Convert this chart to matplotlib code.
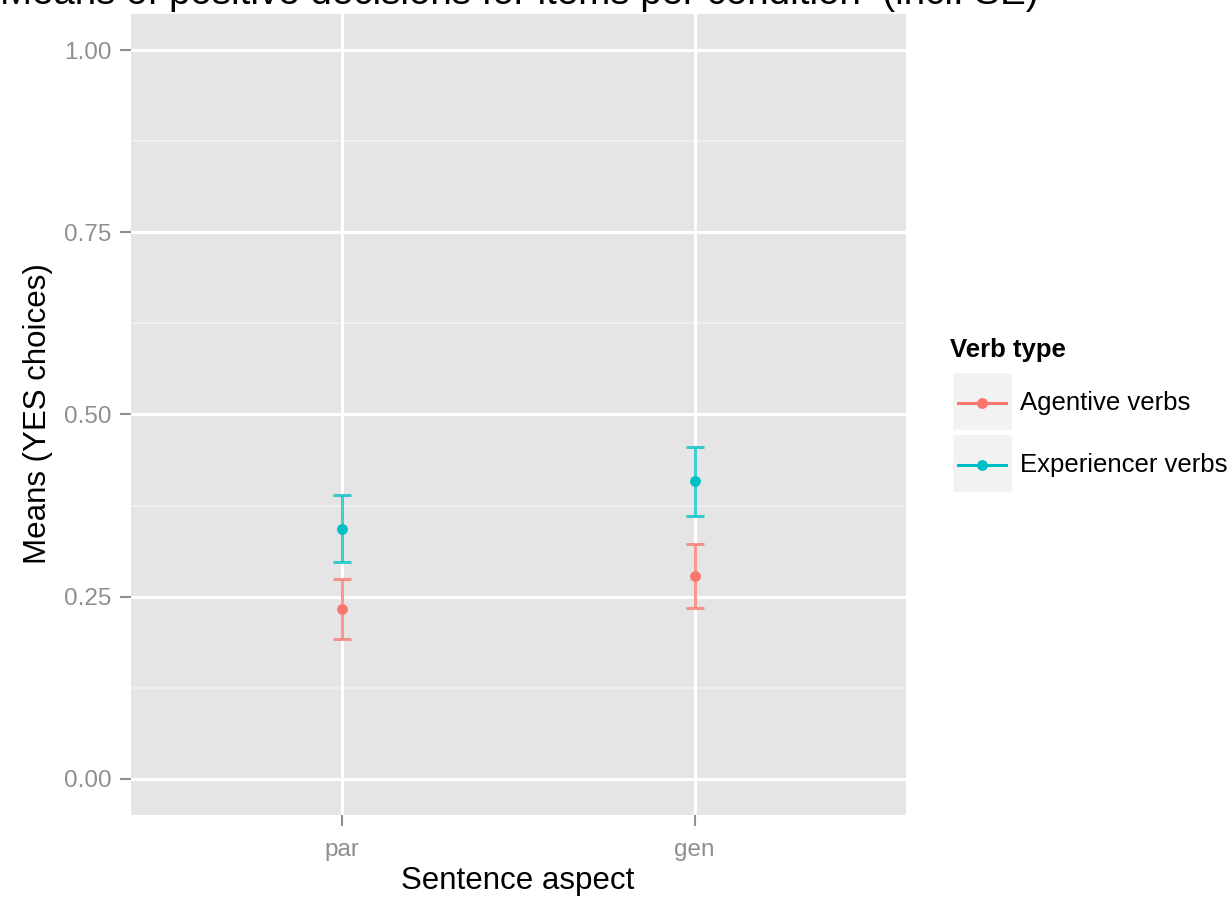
import numpy as np
import matplotlib
matplotlib.use("Agg")
import matplotlib.pyplot as plt
from matplotlib.lines import Line2D
from matplotlib.patches import Rectangle

# data
aspects = ["par", "gen"]
verb_types = ["Agentive verbs", "Experiencer verbs"]
means_agentive = [0.233, 0.278]
se_agentive = [0.041, 0.044]
means_experiencer = [0.343, 0.408]
se_experiencer = [0.046, 0.047]
yticks = [0.0, 0.25, 0.5, 0.75, 1.0]
ytick_labels = ["0.00", "0.25", "0.50", "0.75", "1.00"]

colors = ["#F8766D", "#00BFC4"]
W, H = 1230, 898
plt.rcParams["font.family"] = ["Liberation Sans", "DejaVu Sans"]

fig = plt.figure(figsize=(W / 100, H / 100), dpi=100)
ax = fig.add_axes([131 / W, 1 - 815 / H, 775 / W, 801 / H])
ax.set_facecolor("#E5E5E5")
for s in ax.spines.values():
    s.set_visible(False)

x = np.arange(1, len(aspects) + 1)
ax.set_xlim(0.4, 2.6)
ax.set_ylim(-0.05, 1.05)

# grid
for m in np.arange(0.125, 1.0, 0.25):
    ax.axhline(m, color="#F2F2F2", lw=1.2, zorder=0)
for t in yticks:
    ax.axhline(t, color="white", lw=2.2, zorder=0)
for xi in x:
    ax.axvline(xi, color="white", lw=2.2, zorder=0)

series = [(means_agentive, se_agentive), (means_experiencer, se_experiencer)]
for (m, se), c in zip(series, colors):
    m = np.array(m)
    se = np.array(se)
    ax.errorbar(x, m, yerr=se, fmt="none", ecolor=c, elinewidth=2.2,
                capsize=6.5, capthick=2.2, alpha=0.75, zorder=2)
    ax.plot(x, m, "o", color=c, ms=7.8, zorder=3, mec="none")

ax.set_xticks(x)
ax.set_xticklabels(aspects)
ax.set_yticks(yticks)
ax.set_yticklabels(ytick_labels)
ax.tick_params(axis="both", colors="#8F8F8F", labelcolor="#8F8F8F",
               labelsize=17.5, length=8, width=1.5)
ax.tick_params(axis="x", pad=9)
ax.tick_params(axis="y", pad=6)

# labels and title
fig.text(38 / W, 1 - 414 / H, "Means (YES choices)", rotation=90,
         ha="center", va="center", fontsize=22.5)
fig.text(518 / W, 1 - 881 / H, "Sentence aspect", ha="center",
         va="center", fontsize=22.5)
fig.text(519 / W, 1 - 4 / H,
         "Means of positive decisions for items per condition  (incl. SE)",
         ha="center", va="baseline", fontsize=27.7)

# legend
px = lambda a, b: (a / W, 1 - b / H)
fig.text(*px(950, 350), "Verb type", fontsize=18.5, fontweight="bold",
         va="center", ha="left")
for i, (lab, c) in enumerate(zip(verb_types, colors)):
    top = 372 + i * 62
    fig.add_artist(Rectangle(px(952, top + 58), 60 / W, 58 / H,
                             transform=fig.transFigure, facecolor="#F2F2F2",
                             edgecolor="white", lw=1))
    yc = top + 31
    fig.add_artist(Line2D([958 / W, 1006 / W], [1 - yc / H] * 2, color=c,
                          lw=2.2, transform=fig.transFigure))
    fig.add_artist(Line2D([982 / W], [1 - yc / H], marker="o", color=c,
                          ms=7.8, mec="none", transform=fig.transFigure))
    fig.text(*px(1020, yc), lab, fontsize=18.5, va="center", ha="left")

fig.savefig("out.png", dpi=100)
